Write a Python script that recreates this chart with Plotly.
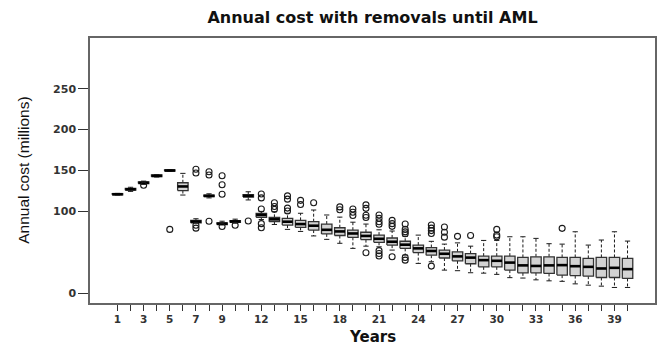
import plotly.graph_objects as go

# Yearly cost distribution (millions): box statistics per year
years = list(range(1, 41))
q1 = [120.3, 126.0, 134.0, 142.5, 149.3, 125.5, 86.0, 118.0, 84.0, 86.5,
      117.5, 92.7, 87.4, 83.3, 80.5, 77.2, 72.5, 70.5, 68.3, 65.5,
      62.2, 58.8, 54.8, 49.6, 46.5, 43.0, 39.6, 36.0, 32.2, 32.2,
      28.2, 24.9, 24.9, 24.1, 22.1, 21.5, 20.8, 19.2, 19.2, 18.0]
median = [121.0, 127.0, 135.0, 143.5, 150.0, 130.5, 87.5, 119.0, 85.0, 87.7,
          119.0, 95.6, 90.3, 87.4, 84.5, 82.5, 77.5, 75.5, 73.0, 70.0,
          66.5, 62.9, 59.3, 54.8, 51.6, 48.2, 45.0, 43.5, 40.4, 39.6,
          37.4, 34.0, 33.3, 34.0, 34.3, 33.0, 32.2, 30.2, 31.0, 29.4]
q3 = [121.7, 128.0, 136.0, 144.5, 150.7, 135.0, 89.0, 120.0, 86.0, 88.8,
      120.5, 97.7, 92.7, 91.5, 89.0, 87.4, 84.5, 80.0, 77.0, 74.5,
      71.0, 67.5, 63.5, 58.8, 55.8, 52.7, 50.6, 48.3, 45.3, 45.3,
      45.3, 43.7, 44.5, 44.5, 43.7, 43.7, 42.5, 43.7, 43.7, 42.5]
whisker_low = [120.0, 124.5, 133.0, 142.0, 149.0, 120.0, 85.5, 116.5, 83.5, 85.5,
               114.0, 90.0, 84.0, 78.0, 75.5, 70.0, 65.8, 61.0, 54.8, 57.5,
               56.7, 52.7, 46.6, 36.4, 38.4, 28.2, 27.5, 25.0, 24.5, 23.0,
               19.0, 18.5, 16.3, 15.1, 14.5, 11.4, 9.8, 8.6, 7.0, 7.0]
whisker_high = [122.0, 129.5, 137.0, 145.0, 151.0, 146.5, 91.0, 121.5, 88.0, 90.5,
                124.0, 100.0, 99.6, 97.7, 97.7, 101.7, 95.6, 93.0, 86.8, 84.5,
                77.5, 76.0, 69.5, 71.0, 63.4, 60.0, 61.5, 57.5, 64.5, 64.5,
                69.0, 69.0, 67.0, 60.5, 60.0, 75.1, 58.8, 65.0, 75.1, 63.7]

# Outlying runs: (year, value)
outlier_year = [3, 5, 7, 7, 7, 7, 8, 8, 8, 9, 9, 9, 9, 10, 11,
                12, 12, 12, 12, 12, 13, 13, 13, 14, 14, 14, 14, 15, 15, 16,
                18, 18, 19, 19, 19, 20, 20, 20, 20, 20,
                21, 21, 21, 21, 21, 21, 21, 22, 22, 22, 22,
                23, 23, 23, 23, 23, 23, 25, 25, 25, 25, 25,
                26, 26, 26, 27, 28, 30, 30, 30, 35]
outlier_value = [132.0, 78.0, 151.5, 147.0, 83.0, 79.5, 148.5, 144.5, 88.0, 143.5, 132.5, 121.0, 81.5, 83.0, 88.3,
                 121.3, 116.5, 103.0, 85.0, 80.0, 110.5, 106.0, 102.5, 119.0, 115.0, 104.0, 100.5, 113.5, 108.5, 110.5,
                 105.5, 102.0, 103.0, 99.0, 95.0, 108.0, 103.7, 95.3, 92.5, 49.4,
                 95.6, 91.5, 87.4, 84.3, 52.0, 48.6, 45.5, 89.0, 85.0, 81.7, 44.5,
                 84.6, 78.0, 75.0, 72.7, 43.7, 40.4, 83.3, 79.5, 76.5, 73.0, 33.1,
                 81.0, 74.5, 68.5, 69.5, 70.5, 78.0, 71.0, 69.0, 79.3]

x_tick_labels = ["1", "", "3", "", "5", "", "7", "", "9", "", "", "12", "", "", "15",
                 "", "", "18", "", "", "21", "", "", "24", "", "", "27", "", "", "30",
                 "", "", "33", "", "", "36", "", "", "39", ""]
y_tick_values = [0, 100, 150, 200, 250]
y_tick_labels = ["<b>%d</b>" % v for v in y_tick_values]
x_tick_text = ["<b>%s</b>" % t if t else "" for t in x_tick_labels]

HALF_BOX = 0.4
HALF_STAPLE = 0.2
INK = "#1a1a1a"
TEXT = "#333333"

box_x, box_y = [], []
med_x, med_y = [], []
wh_x, wh_y = [], []
st_x, st_y = [], []
for yr, a, m, b, lo, hi in zip(years, q1, median, q3, whisker_low, whisker_high):
    box_x += [yr - HALF_BOX, yr + HALF_BOX, yr + HALF_BOX, yr - HALF_BOX, yr - HALF_BOX, None]
    box_y += [a, a, b, b, a, None]
    med_x += [yr - HALF_BOX, yr + HALF_BOX, None]
    med_y += [m, m, None]
    wh_x += [yr, yr, None, yr, yr, None]
    wh_y += [b, hi, None, a, lo, None]
    st_x += [yr - HALF_STAPLE, yr + HALF_STAPLE, None, yr - HALF_STAPLE, yr + HALF_STAPLE, None]
    st_y += [hi, hi, None, lo, lo, None]

fig = go.Figure()
fig.add_trace(go.Scatter(x=wh_x, y=wh_y, mode="lines",
                         line=dict(color=INK, width=1, dash="3px,2px"), hoverinfo="skip"))
fig.add_trace(go.Scatter(x=st_x, y=st_y, mode="lines",
                         line=dict(color=INK, width=1), hoverinfo="skip"))
fig.add_trace(go.Scatter(x=box_x, y=box_y, mode="lines", fill="toself",
                         fillcolor="#d3d3d3", line=dict(color="#333333", width=1.3),
                         hoverinfo="skip"))
fig.add_trace(go.Scatter(x=med_x, y=med_y, mode="lines",
                         line=dict(color="#000000", width=2.6), hoverinfo="skip"))
fig.add_trace(go.Scatter(x=outlier_year, y=outlier_value, mode="markers",
                         marker=dict(symbol="circle-open", size=6, color=INK,
                                     line=dict(width=1.1)),
                         hoverinfo="skip"))

fig.update_layout(
    width=662, height=346,
    margin=dict(l=90, r=5, t=38, b=43),
    paper_bgcolor="white", plot_bgcolor="white",
    showlegend=False,
    font=dict(family="DejaVu Sans, Liberation Sans, sans-serif", color=TEXT),
    title=dict(text="<b>Annual cost with removals until AML</b>",
               x=0.5, xref="paper", xanchor="center",
               y=1 - 17 / 346, yref="container", yanchor="middle",
               font=dict(family="DejaVu Sans", size=16, color="#111111")),
    annotations=[
        dict(text="Annual cost (millions)", textangle=-90,
             xref="paper", yref="paper", x=(23 - 90) / 567, y=0.5,
             xanchor="center", yanchor="middle", showarrow=False,
             font=dict(family="Liberation Sans", size=15.5, color="#111111")),
        dict(text="<b>Years</b>", xref="paper", yref="paper",
             x=0.5, y=(303 - 337) / 265, xanchor="center", yanchor="middle",
             showarrow=False,
             font=dict(family="DejaVu Sans", size=15, color="#111111")),
    ],
)
fig.update_xaxes(range=[-1.1, 42.1], tickmode="array", tickvals=years, ticktext=x_tick_text,
                 ticks="outside", ticklen=6, tickcolor="#333333", tickwidth=1,
                 showline=True, mirror=True, linecolor="#666666", linewidth=1.5,
                 showgrid=False, zeroline=False,
                 tickfont=dict(family="DejaVu Sans", size=10.5, color=TEXT))
fig.update_yaxes(range=[-12, 312], tickmode="array", tickvals=y_tick_values,
                 ticktext=y_tick_labels,
                 ticks="outside", ticklen=10, tickcolor="#333333", tickwidth=1,
                 showline=True, mirror=True, linecolor="#666666", linewidth=1.5,
                 showgrid=False, zeroline=False,
                 tickfont=dict(family="DejaVu Sans", size=11, color=TEXT))

fig.write_html("out.html")
